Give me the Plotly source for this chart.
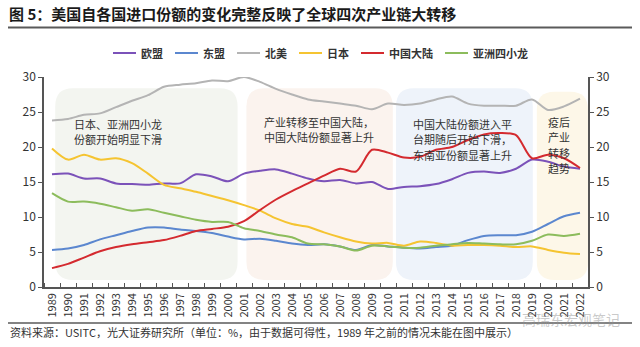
import plotly.graph_objects as go

# ---- data -------------------------------------------------------------
years = list(range(1989, 2023))

eu = [16.1, 16.2, 15.5, 15.5, 14.8, 14.7, 14.6, 14.8, 14.8, 16.1,
      15.8, 15.1, 16.2, 16.6, 16.8, 16.2, 15.5, 15.1, 15.3, 14.8,
      15.0, 14.0, 14.3, 14.4, 14.7, 15.4, 16.3, 16.5, 16.3, 16.9,
      18.2, 17.9, 17.2, 16.9]
asean = [5.3, 5.5, 6.0, 6.8, 7.4, 8.0, 8.5, 8.5, 8.2, 8.0,
         7.7, 7.2, 6.8, 6.9, 6.6, 6.2, 6.0, 6.1, 5.8, 5.3,
         6.0, 5.8, 5.6, 5.5, 5.7, 5.9, 6.7, 7.3, 7.4, 7.4,
         7.9, 9.0, 10.1, 10.6]
north_america = [23.8, 24.0, 24.6, 24.8, 25.7, 26.6, 27.4, 28.6, 28.9, 29.1,
                 29.5, 29.4, 30.0, 29.3, 28.3, 27.5, 26.8, 26.5, 26.2, 25.9,
                 25.4, 26.2, 26.0, 26.2, 26.8, 27.2, 26.2, 25.9, 25.9, 25.9,
                 26.8, 25.3, 25.8, 26.9]
japan = [19.8, 18.2, 18.9, 18.2, 18.4, 17.7, 16.2, 14.6, 14.1, 13.6,
         13.0, 12.4, 11.7, 10.9, 9.8, 9.0, 8.6, 7.8, 7.1, 6.5,
         6.2, 6.3, 5.9, 6.5, 6.3, 5.9, 6.0, 6.0, 5.9, 5.7,
         5.8, 5.3, 4.9, 4.7]
china = [2.7, 3.3, 4.2, 5.1, 5.7, 6.1, 6.4, 6.7, 7.3, 8.0,
         8.3, 8.6, 9.4, 11.0, 12.5, 13.7, 14.8, 15.9, 16.9, 16.5,
         19.6, 19.2, 18.5, 18.6, 19.6, 20.0, 21.0, 21.8, 22.0, 21.7,
         18.4, 18.9, 18.4, 17.0]
tigers = [13.4, 12.2, 12.2, 11.9, 11.4, 10.9, 11.1, 10.6, 10.1, 9.6,
          9.3, 9.3, 8.4, 8.0, 7.5, 7.1, 6.2, 6.1, 5.8, 5.2,
          5.9, 5.8, 5.6, 5.6, 5.9, 6.1, 6.3, 6.2, 6.1, 6.1,
          6.6, 7.5, 7.3, 7.6]

series_names = ["欧盟", "东盟", "北美", "日本", "中国大陆", "亚洲四小龙"]
series_values = [eu, asean, north_america, japan, china, tigers]
series_colors = ["#7b52b9", "#5b87cf", "#b4b4b4", "#f5c431", "#d42a2f", "#8cbc5c"]

y_ticks = [0, 5, 10, 15, 20, 25, 30]

# shaded periods: (start, end, top, fill)
periods = [
    (1989.2, 2000.6, 28.4, "#f3f5f0"),
    (2001.15, 2010.3, 28.4, "#fbf3ee"),
    (2010.5, 2019.05, 28.4, "#eef3fa"),
    (2019.3, 2022.5, 27.9, "#fdf7e8"),
]

notes = [
    (1990.25, 23.3, ["日本、亚洲四小龙", "份额开始明显下滑"]),
    (2002.15, 23.6, ["产业转移至中国大陆，", "中国大陆份额显著上升"]),
    (2011.45, 23.35, ["中国大陆份额进入平", "台期随后开始下滑，", "东南亚份额显著上升"]),
    (2019.9, 23.6, ["疫后", "产业", "转移", "趋势"]),
]

title = "图 5：美国自各国进口份额的变化完整反映了全球四次产业链大转移"
source = "资料来源：USITC，光大证券研究所（单位：%，由于数据可得性，1989 年之前的情况未能在图中展示）"

# ---- figure -----------------------------------------------------------
W, H = 640, 347
L, R, T, B = 44, 52, 77, 60
PW, PH = W - L - R, H - T - B
FONT = "Noto Sans CJK SC"
TXT = "#333333"


def px_x(px):
    return (px - L) / PW


def px_y(py):
    return (H - B - py) / PH


fig = go.Figure()

for name, vals, col in zip(series_names, series_values, series_colors):
    fig.add_trace(go.Scatter(
        x=years, y=vals, name=name, mode="lines",
        line=dict(color=col, width=2, shape="spline", smoothing=0.8),
        showlegend=False,
    ))

shapes = []
# rounded background panels
rx, ry = 1.1, 2.6
for x0, x1, top, fill in periods:
    y0 = 1.0
    path = (f"M {x0+rx},{y0} L {x1-rx},{y0} Q {x1},{y0} {x1},{y0+ry} "
            f"L {x1},{top-ry} Q {x1},{top} {x1-rx},{top} "
            f"L {x0+rx},{top} Q {x0},{top} {x0},{top-ry} "
            f"L {x0},{y0+ry} Q {x0},{y0} {x0+rx},{y0} Z")
    shapes.append(dict(type="path", xref="x", yref="y", path=path,
                       fillcolor=fill, line=dict(width=0), layer="below"))

# rules under title and above source
for py in (27.5, 323):
    shapes.append(dict(type="line", xref="paper", yref="paper",
                       x0=px_x(8), x1=px_x(632), y0=px_y(py), y1=px_y(py),
                       line=dict(color="#5a5a5a", width=2 if py < 100 else 1.5)))

annotations = []
annotations.append(dict(text=f"<b>{title}</b>", xref="paper", yref="paper",
                        x=px_x(7), y=px_y(14), xanchor="left", yanchor="middle",
                        showarrow=False, font=dict(family=FONT, size=15, color="#1a1a1a")))
annotations.append(dict(text=source, xref="paper", yref="paper",
                        x=px_x(8), y=px_y(332), xanchor="left", yanchor="middle",
                        showarrow=False, font=dict(family=FONT, size=11, color=TXT)))
annotations.append(dict(text="高瑞东宏观笔记", xref="paper", yref="paper",
                        x=px_x(622), y=px_y(319), xanchor="right", yanchor="middle",
                        showarrow=False, font=dict(family=FONT, size=14, color="rgba(150,150,150,0.5)")))

# legend built from the series list
text_w = [len(n) * 11 for n in series_names]
x_cur = 113
for name, col, tw in zip(series_names, series_colors, text_w):
    shapes.append(dict(type="line", xref="paper", yref="paper",
                       x0=px_x(x_cur), x1=px_x(x_cur + 23), y0=px_y(53), y1=px_y(53),
                       line=dict(color=col, width=2)))
    annotations.append(dict(text=f"<b>{name}</b>", xref="paper", yref="paper",
                            x=px_x(x_cur + 26), y=px_y(53), xanchor="left", yanchor="middle",
                            showarrow=False, font=dict(family=FONT, size=11, color=TXT)))
    x_cur += 27 + tw + 13

# period notes, one annotation per line
line_gap = 15.5 / 7.0
for nx, ny, lines in notes:
    for i, ln in enumerate(lines):
        annotations.append(dict(text=ln, xref="x", yref="y", x=nx, y=ny - i * line_gap,
                                xanchor="left", yanchor="middle", showarrow=False,
                                font=dict(family=FONT, size=11, color=TXT)))

axis_line = dict(showline=True, linecolor="#555555", linewidth=1.5)

fig.update_layout(
    width=W, height=H,
    margin=dict(l=L, r=R, t=T, b=B),
    paper_bgcolor="white", plot_bgcolor="white",
    font=dict(family=FONT, size=11, color=TXT),
    shapes=shapes, annotations=annotations,
    xaxis=dict(range=[1988.5, 2022.5], tickvals=years, ticktext=[str(y) for y in years],
               tickangle=-90, ticks="", showgrid=False, zeroline=False,
               tickfont=dict(size=11, color=TXT),
               minor=dict(tick0=1988.5, dtick=1, ticks="inside", ticklen=4,
                          tickcolor="#555555", showgrid=False),
               **axis_line),
    yaxis=dict(range=[0, 30], tickvals=y_ticks, ticks="outside", ticklen=4,
               tickcolor="#555555", showgrid=False, zeroline=False,
               tickfont=dict(size=12, color=TXT), **axis_line),
    yaxis2=dict(range=[0, 30], tickvals=y_ticks, ticks="outside", ticklen=4,
                tickcolor="#555555", showgrid=False, zeroline=False,
                overlaying="y", side="right", anchor="x",
                tickfont=dict(size=12, color=TXT), **axis_line),
)

# invisible trace so the right-hand axis is drawn
fig.add_trace(go.Scatter(x=[years[0]], y=[0], yaxis="y2", mode="markers",
                         marker=dict(opacity=0), showlegend=False, hoverinfo="skip"))

fig.write_html("out.html")
